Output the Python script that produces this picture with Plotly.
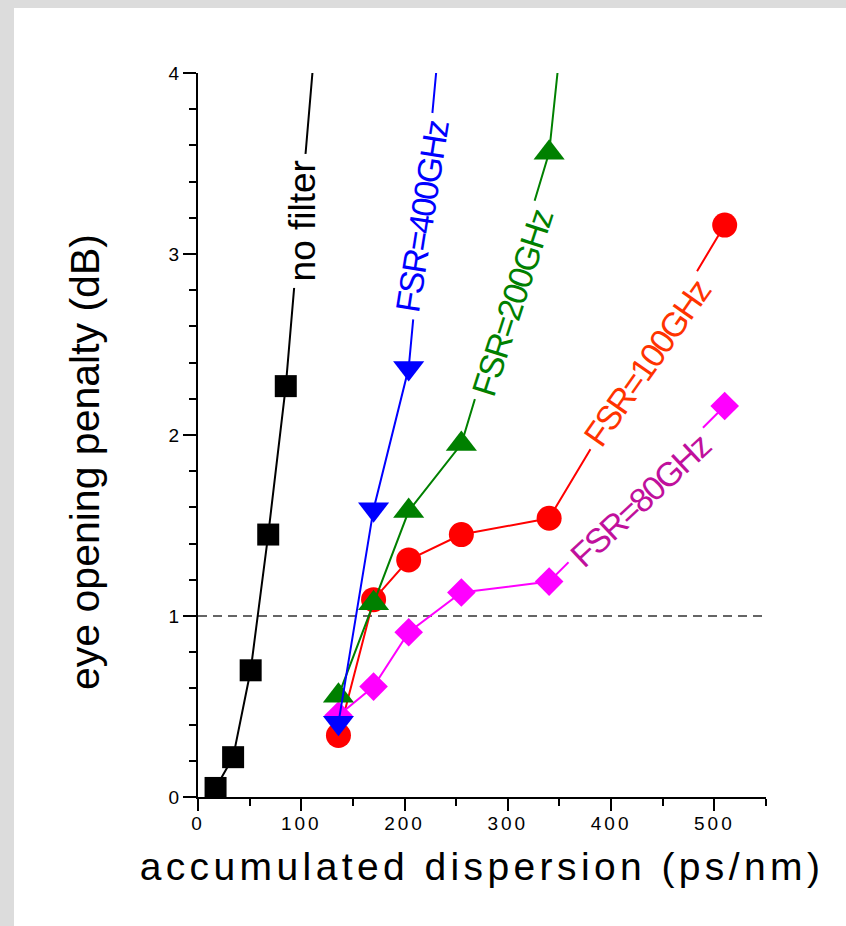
import plotly.graph_objects as go

# Accumulated dispersion (ps/nm)
disp_nofilter = [17, 34, 51, 68, 85, 119]
disp_fsr400 = [136, 170, 204, 255]
disp_filter = [136, 170, 204, 255, 340, 510]

# Eye opening penalty (dB)
pen_nofilter = [0.05, 0.22, 0.70, 1.45, 2.27, 4.55]
pen_fsr400 = [0.41, 1.59, 2.37, 5.5]
pen_fsr200 = [0.56, 1.07, 1.58, 1.95, 3.56, 12.8]
pen_fsr100 = [0.34, 1.09, 1.31, 1.45, 1.54, 3.16]
pen_fsr80 = [0.45, 0.61, 0.91, 1.13, 1.19, 2.16]

threshold_db = 1.0

x_tick_vals = [0, 100, 200, 300, 400, 500]
x_tick_text = ["0", "100", "200", "300", "400", "500"]
y_tick_vals = [0, 1, 2, 3, 4]
y_tick_text = ["0", "1", "2", "3", "4"]

X_RANGE = [0, 550]
Y_RANGE = [0, 4]

SANS = "Liberation Sans, Arial, sans-serif"

fig = go.Figure()

# 1 dB reference level
fig.add_trace(go.Scatter(
    x=X_RANGE, y=[threshold_db, threshold_db], mode="lines",
    line=dict(color="#333333", width=1.3, dash="9px,6px"),
    hoverinfo="skip", showlegend=False,
))

series = [
    (disp_nofilter, pen_nofilter, "#000000", "square", 22),
    (disp_filter, pen_fsr100, "#ff0000", "circle", 25),
    (disp_filter, pen_fsr80, "#ff00ff", "diamond", 22),
    (disp_filter, pen_fsr200, "#008000", "triangle-up", 27),
    (disp_fsr400, pen_fsr400, "#0000ff", "triangle-down", 27),
]
for xs, ys, color, symbol, size in series:
    fig.add_trace(go.Scatter(
        x=xs, y=ys, mode="lines+markers",
        line=dict(color=color, width=2),
        marker=dict(symbol=symbol, size=size, color=color, line=dict(width=0)),
        showlegend=False,
    ))


def tight(s, px):
    return '<span style="letter-spacing:%spx">%s</span>' % (px, s)


# Curve labels sitting on their lines (white box breaks the line)
labels = [
    ("no filter", 100.7, 3.18, -90, "#000000", 37, 0),
    ("FSR=400GHz", 217.0, 3.21, -81, "#0000ff", 34, -2),
    ("FSR=200GHz", 304.5, 2.735, -72, "#008000", 34, -2),
    ("FSR=100GHz", 434.5, 2.40, -55, "#ff3300", 34, -2),
    ("FSR=80GHz", 428.8, 1.641, -43, "#c0109c", 34, -2),
]
for text, lx, ly, ang, color, fs, ls in labels:
    fig.add_annotation(
        x=lx, y=ly, xref="x", yref="y",
        text=tight(text, ls) if ls else text, showarrow=False,
        textangle=ang, font=dict(family=SANS, size=fs, color=color),
        bgcolor="white", borderpad=6, xanchor="center", yanchor="middle",
    )

# Vertical axis title
fig.add_annotation(
    x=-0.199, y=0.4627, xref="paper", yref="paper",
    text="eye opening penalty (dB)", showarrow=False, textangle=-90,
    font=dict(family=SANS, size=41, color="black"),
    xanchor="center", yanchor="middle",
)

# Page frame
L, R, T, B = 198, 80, 73, 129
W, H = 846, 926
pw, ph = W - L - R, H - T - B
fig.add_shape(type="rect", xref="paper", yref="paper", layer="below",
              x0=-L / pw, x1=(14 - L) / pw, y0=-B / ph, y1=(H - B) / ph,
              fillcolor="#dcdcdc", line=dict(width=0))
fig.add_shape(type="rect", xref="paper", yref="paper", layer="below",
              x0=-L / pw, x1=(W - L) / pw, y0=(H - B - 8) / ph, y1=(H - B) / ph,
              fillcolor="#dcdcdc", line=dict(width=0))

fig.update_xaxes(
    range=X_RANGE, showline=True, linewidth=2, linecolor="black",
    showgrid=False, zeroline=False,
    ticks="outside", ticklen=12, tickwidth=2, tickcolor="black",
    tickvals=x_tick_vals,
    ticktext=[tight(t, 3) for t in x_tick_text],
    tickfont=dict(family=SANS, size=19, color="black"),
    ticklabelstandoff=-4,
    minor=dict(tickmode="linear", tick0=0, dtick=50, ticks="outside",
               ticklen=7, tickwidth=2, tickcolor="black"),
    title=dict(
        text=tight("accumulated dispersion (ps/nm)", 4.4),
        font=dict(family=SANS, size=39, color="black"), standoff=20),
)
fig.update_yaxes(
    range=Y_RANGE, showline=True, linewidth=2, linecolor="black",
    showgrid=False, zeroline=False,
    ticks="outside", ticklen=13, tickwidth=2, tickcolor="black",
    tickvals=y_tick_vals, ticktext=y_tick_text,
    tickfont=dict(family=SANS, size=19, color="black"),
    minor=dict(tickmode="linear", tick0=0, dtick=0.2, ticks="outside",
               ticklen=7, tickwidth=2, tickcolor="black"),
)

fig.update_layout(
    width=W, height=H, autosize=False,
    margin=dict(l=L, r=R, t=T, b=B),
    paper_bgcolor="white", plot_bgcolor="white",
    showlegend=False,
)

fig.write_html("out.html")
